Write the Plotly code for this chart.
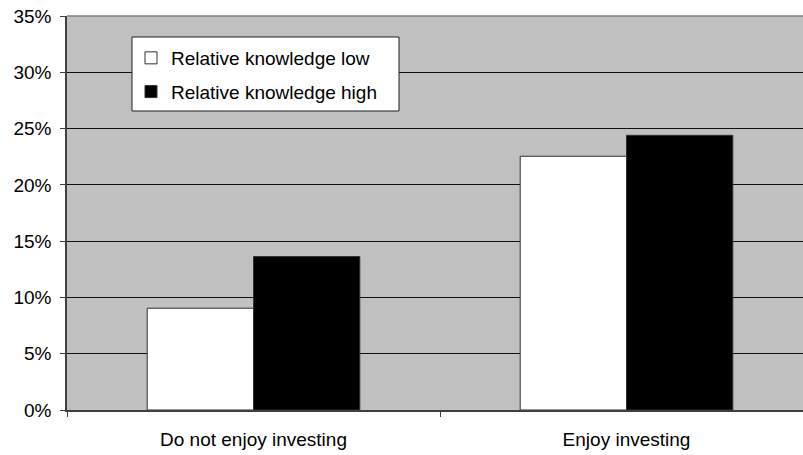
import plotly.graph_objects as go

categories = ["Do not enjoy investing", "Enjoy investing"]
low_values = [0.0904, 0.2254]
high_values = [0.1363, 0.2440]
series_names = ["Relative knowledge low", "Relative knowledge high"]
y_ticks = [0, 0.05, 0.10, 0.15, 0.20, 0.25, 0.30, 0.35]

FONT = "Liberation Sans, Arial, sans-serif"
FS = 19
xpos = list(range(len(categories)))

fig = go.Figure()
fig.add_trace(go.Bar(x=xpos, y=low_values, name=series_names[0],
                     marker=dict(color="white", line=dict(color="#303030", width=1)),
                     legendgroup="a"))
fig.add_trace(go.Bar(x=xpos, y=high_values, name=series_names[1],
                     marker=dict(color="black", line=dict(color="#303030", width=1)),
                     legendgroup="b"))

ML, MT, MB = 67, 16, 45
W, H = 803, 455
pw = W - ML
ph = H - MT - MB

def px_x(x):
    return (x - ML) / pw

def px_y(y):
    return (H - MB - y) / ph

fig.add_shape(type="rect", xref="paper", yref="paper",
              x0=px_x(132), x1=px_x(399), y0=px_y(111), y1=px_y(37),
              fillcolor="white", line=dict(color="#202020", width=1), layer="above")
fig.add_shape(type="line", xref="paper", yref="paper", x0=0, x1=1, y0=1, y1=1,
              line=dict(color="#808080", width=1.5))

fig.update_layout(
    width=W, height=H,
    margin=dict(l=ML, r=0, t=MT, b=MB),
    paper_bgcolor="white", plot_bgcolor="#C0C0C0",
    barmode="group", bargap=0.43, bargroupgap=0,
    font=dict(family=FONT, size=FS, color="black"),
    showlegend=True,
    legend=dict(x=px_x(131), y=px_y(39), xanchor="left", yanchor="top",
                bgcolor="rgba(0,0,0,0)", borderwidth=0, tracegroupgap=6,
                font=dict(family=FONT, size=FS, color="black"), traceorder="grouped"),
    xaxis=dict(range=[-0.5, -0.5 + pw / 373.0], tickmode="array", tickvals=xpos,
               ticktext=categories, ticks="", showgrid=False, zeroline=False,
               showline=True, linecolor="#404040", linewidth=1.5,
               minor=dict(tickmode="array", tickvals=[-0.5, 0.5, 1.5], ticks="outside",
                          ticklen=5, tickcolor="#404040", showgrid=False),
               tickfont=dict(size=FS), ticklabelstandoff=11),
    yaxis=dict(range=[0, 0.35], tickmode="array", tickvals=y_ticks, tickformat=".0%",
               ticks="outside", ticklen=5, tickcolor="#404040",
               showgrid=True, gridcolor="#101010", gridwidth=1, zeroline=False,
               showline=True, linecolor="#404040", linewidth=1.5,
               tickfont=dict(size=FS), ticklabelstandoff=5),
)

fig.write_html("out.html")
